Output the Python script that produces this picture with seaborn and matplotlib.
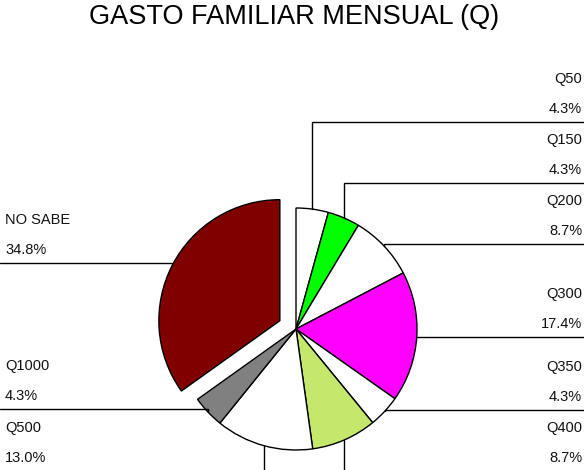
import numpy as np
import matplotlib
matplotlib.use("Agg")
import matplotlib.pyplot as plt
import seaborn as sns

# datos
categorias = ["Q50", "Q150", "Q200", "Q300", "Q350", "Q400", "Q500", "Q1000", "NO SABE"]
porcentajes = [4.3, 4.3, 8.7, 17.4, 4.3, 8.7, 13.0, 4.3, 34.8]
etiquetas_pct = ["4.3%", "4.3%", "8.7%", "17.4%", "4.3%", "8.7%", "13.0%", "4.3%", "34.8%"]
colores = ["#FFFFFF", "#00FF00", "#FFFFFF", "#FF00FF", "#FFFFFF", "#C4E86C", "#FFFFFF", "#808080", "#800000"]

# posicion de cada etiqueta (lado, altura de la linea guia en pixeles)
lados = ["R", "R", "R", "R", "R", "R", "L", "L", "L"]
linea_y = [122, 183, 244, 337, 410, 471, 471, 409, 263]

W, H = 584, 470
sns.set_theme(style="white")
plt.rcParams["font.family"] = ["Liberation Sans", "DejaVu Sans"]

fig = plt.figure(figsize=(W / 100, H / 100), dpi=100)
ax = fig.add_axes([0, 0, 1, 1])

radio = 121
centro = (296, 329)
explode = [0, 0, 0, 0, 0, 0, 0, 0, 0.15 * radio]

wedges, _ = ax.pie(porcentajes, colors=colores, startangle=-90, counterclock=True,
                   radius=radio, center=centro, explode=explode,
                   wedgeprops=dict(edgecolor="black", linewidth=1.0))

ax.set_xlim(0, W)
ax.set_ylim(H, 0)  # y invertido, coordenadas en pixeles
ax.set_aspect("equal")
ax.axis("off")

for w, nombre, pct, lado, ly in zip(wedges, categorias, etiquetas_pct, lados, linea_y):
    th = np.deg2rad((w.theta1 + w.theta2) / 2)
    cx, cy = w.center
    px = cx + w.r * np.cos(th)
    py = cy + w.r * np.sin(th)
    borde = W if lado == "R" else 0
    ax.plot([px, px, borde], [py, ly, ly], color="black", lw=1.0, clip_on=True,
            solid_joinstyle="miter")
    tx = 582 if lado == "R" else 5
    ha = "right" if lado == "R" else "left"
    ax.text(tx, ly - 43, nombre, ha=ha, va="center", fontsize=10.5, color="#111111")
    ax.text(tx, ly - 13, pct, ha=ha, va="center", fontsize=10.5, color="#111111")

ax.text(294, 17, "GASTO FAMILIAR MENSUAL (Q)", ha="center", va="center",
        fontsize=19.5, color="black")

fig.savefig("out.png", dpi=100)
